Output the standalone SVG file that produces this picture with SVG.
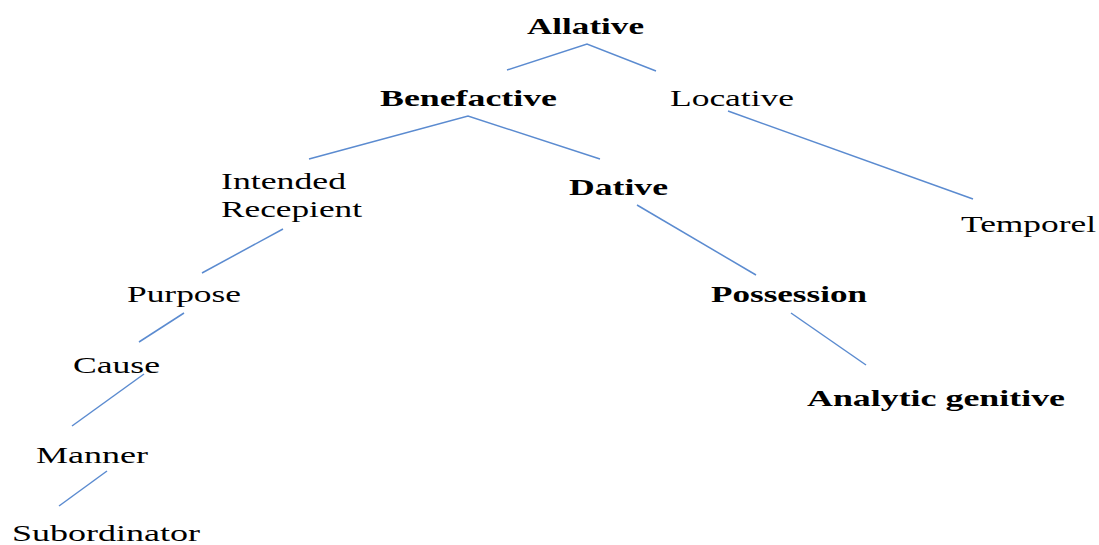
<svg xmlns="http://www.w3.org/2000/svg" width="1099" height="545" viewBox="0 0 1099 545">
<style>
text{font-family:"Liberation Serif","Times New Roman",serif;font-size:24px;fill:#000}
.b{font-weight:bold}
.e{stroke:#5b8bd0;stroke-width:1.5;fill:none}
</style>
<rect width="1099" height="545" fill="#fff"/>
<g id="connectors">
<polyline class="e" points="507,70 587,44 656,71"/>
<polyline class="e" points="309,159 468,116 600,159"/>
<line class="e" x1="728" y1="111" x2="973" y2="199"/>
<line class="e" x1="283" y1="229" x2="202" y2="273"/>
<line class="e" x1="184" y1="313" x2="139" y2="342"/>
<line class="e" x1="144" y1="374" x2="72" y2="426"/>
<line class="e" x1="107" y1="471" x2="59" y2="506"/>
<line class="e" x1="637" y1="205" x2="756" y2="275"/>
<line class="e" x1="791" y1="313" x2="866" y2="365"/>
</g>
<g id="allative"><text class="b" x="527" y="34" textLength="117" lengthAdjust="spacingAndGlyphs">Allative</text></g>
<g id="benefactive"><text class="b" x="380" y="106" textLength="177" lengthAdjust="spacingAndGlyphs">Benefactive</text></g>
<g id="locative"><text x="670" y="106" textLength="124" lengthAdjust="spacingAndGlyphs">Locative</text></g>
<g id="intended"><text x="221" y="189" textLength="125" lengthAdjust="spacingAndGlyphs">Intended</text><text x="221" y="217" textLength="141" lengthAdjust="spacingAndGlyphs">Recepient</text></g>
<g id="dative"><text class="b" x="569" y="195" textLength="99" lengthAdjust="spacingAndGlyphs">Dative</text></g>
<g id="temporel"><text x="961" y="232" textLength="135" lengthAdjust="spacingAndGlyphs">Temporel</text></g>
<g id="purpose"><text x="127" y="302" textLength="114" lengthAdjust="spacingAndGlyphs">Purpose</text></g>
<g id="possession"><text class="b" x="711" y="302" textLength="156" lengthAdjust="spacingAndGlyphs">Possession</text></g>
<g id="cause"><text x="73" y="373" textLength="87" lengthAdjust="spacingAndGlyphs">Cause</text></g>
<g id="analytic"><text class="b" x="807" y="406" textLength="258" lengthAdjust="spacingAndGlyphs">Analytic genitive</text></g>
<g id="manner"><text x="36" y="463" textLength="112" lengthAdjust="spacingAndGlyphs">Manner</text></g>
<g id="subordinator"><text x="12" y="541" textLength="188" lengthAdjust="spacingAndGlyphs">Subordinator</text></g>
</svg>
